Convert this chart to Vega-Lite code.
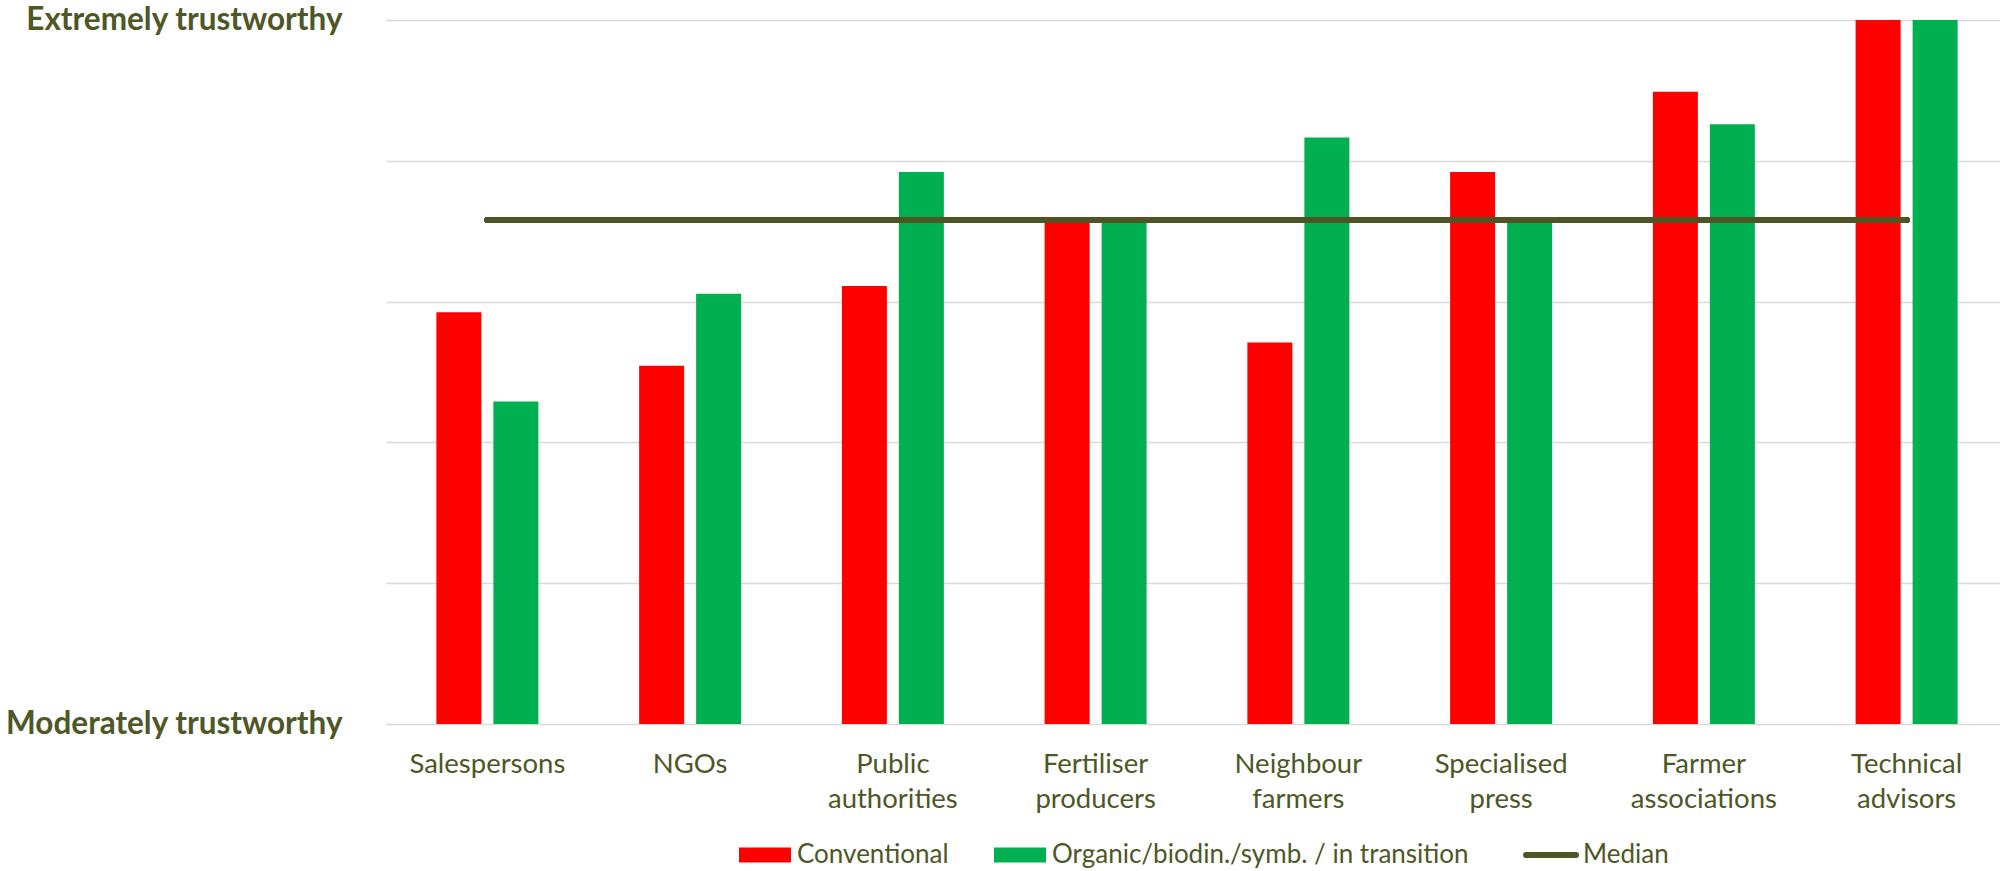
{
  "$schema": "https://vega.github.io/schema/vega-lite/v6.json",
  "autosize": {"type": "none"},
  "width": 1622,
  "height": 704,
  "padding": {"left": 386, "top": 20, "right": 0, "bottom": 147},
  "background": "white",
  "config": {
    "view": {"stroke": null},
    "font": "Lato",
    "axis": {"labelFont": "Lato", "labelColor": "#4e5726"},
    "legend": {"labelFont": "Lato", "labelColor": "#4e5726", "symbolSize": 2704}
  },
  "data": {
    "values": [
      {"source": "Salespersons", "group": "Conventional", "score": 3.585},
      {"source": "Salespersons", "group": "Organic/biodin./symb. / in transition", "score": 3.458},
      {"source": "NGOs", "group": "Conventional", "score": 3.509},
      {"source": "NGOs", "group": "Organic/biodin./symb. / in transition", "score": 3.611},
      {"source": "Public authorities", "group": "Conventional", "score": 3.622},
      {"source": "Public authorities", "group": "Organic/biodin./symb. / in transition", "score": 3.784},
      {"source": "Fertiliser producers", "group": "Conventional", "score": 3.716},
      {"source": "Fertiliser producers", "group": "Organic/biodin./symb. / in transition", "score": 3.716},
      {"source": "Neighbour farmers", "group": "Conventional", "score": 3.542},
      {"source": "Neighbour farmers", "group": "Organic/biodin./symb. / in transition", "score": 3.833},
      {"source": "Specialised press", "group": "Conventional", "score": 3.784},
      {"source": "Specialised press", "group": "Organic/biodin./symb. / in transition", "score": 3.716},
      {"source": "Farmer associations", "group": "Conventional", "score": 3.898},
      {"source": "Farmer associations", "group": "Organic/biodin./symb. / in transition", "score": 3.852},
      {"source": "Technical advisors", "group": "Conventional", "score": 4.0},
      {"source": "Technical advisors", "group": "Organic/biodin./symb. / in transition", "score": 4.0}
    ]
  },
  "layer": [
    {
      "mark": {"type": "bar"},
      "encoding": {
        "x": {
          "field": "source",
          "type": "nominal",
          "sort": null,
          "title": null,
          "scale": {"paddingInner": 0, "paddingOuter": 0},
          "axis": {
            "domain": false,
            "ticks": false,
            "grid": false,
            "labelAngle": 0,
            "labelFontSize": 27.5,
            "labelPadding": 26,
            "labelLineHeight": 35,
            "labelLimit": 0,
            "labelExpr": "split(datum.label, ' ')"
          }
        },
        "xOffset": {
          "field": "group",
          "type": "nominal",
          "sort": null,
          "scale": {"paddingInner": 0.2105, "paddingOuter": 0.884}
        },
        "y": {
          "field": "score",
          "type": "quantitative",
          "title": null,
          "scale": {"domain": [3, 4], "nice": false, "zero": false},
          "axis": {
            "values": [3, 3.2, 3.4, 3.6, 3.8, 4],
            "domain": false,
            "ticks": false,
            "grid": true,
            "gridColor": "#d9d9d9",
            "gridWidth": 1.5,
            "labelFontSize": 31.5,
            "labelFontWeight": "bold",
            "labelPadding": 44,
            "labelLimit": 0,
            "labelBaseline": "middle",
            "labelExpr": "datum.value == 4 ? 'Extremely trustworthy' : (datum.value == 3 ? 'Moderately trustworthy' : '')"
          }
        },
        "y2": {"datum": 3},
        "color": {
          "field": "group",
          "type": "nominal",
          "sort": null,
          "title": null,
          "scale": {
            "domain": ["Conventional", "Organic/biodin./symb. / in transition", "Median"],
            "range": ["#ff0000", "#00b050", "#4e5424"]
          },
          "legend": {
            "orient": "none",
            "direction": "horizontal",
            "legendX": 366,
            "legendY": 822,
            "padding": 0,
            "labelFontSize": 26,
            "labelOffset": 19,
            "labelLimit": 0,
            "columnPadding": 45,
            "symbolSize": 2704,
            "encode": {
              "symbols": {
                "update": {
                  "shape": {"signal": "datum.value === 'Median' ? 'M-0.96,0H0.96' : 'M-1,-0.29H1V0.29H-1Z'"},
                  "fill": {"signal": "datum.value === 'Median' ? 'transparent' : scale('color', datum.value)"},
                  "stroke": {"signal": "datum.value === 'Median' ? '#4e5424' : 'transparent'"},
                  "strokeWidth": {"signal": "datum.value === 'Median' ? 6 : 0"},
                  "strokeCap": {"value": "round"},
                  "size": {"value": 2704},
                  "opacity": {"value": 1}
                }
              }
            }
          }
        }
      }
    },
    {
      "mark": {"type": "rule", "strokeWidth": 6, "strokeCap": "round"},
      "encoding": {
        "x": {"datum": "Salespersons", "type": "nominal"},
        "x2": {"datum": "Technical advisors"},
        "y": {"datum": 3.716, "type": "quantitative"},
        "color": {"datum": "Median"}
      }
    }
  ]
}
